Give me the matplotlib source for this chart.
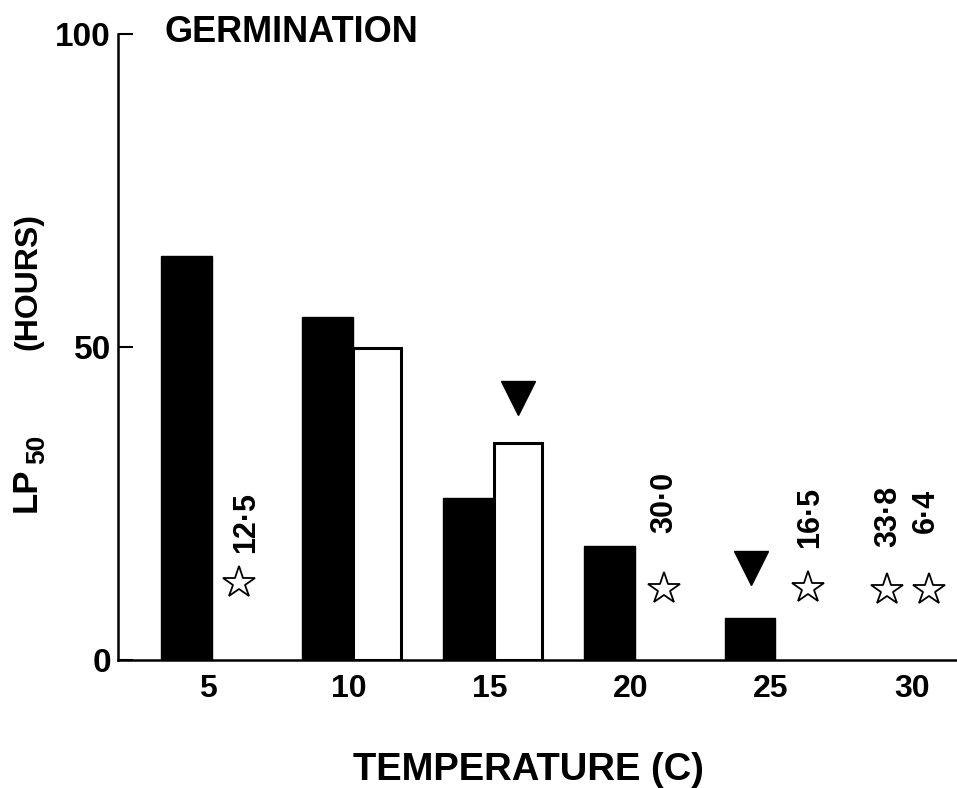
import matplotlib
matplotlib.use("Agg")
import matplotlib.pyplot as plt

plt.rcParams['font.family'] = ['Liberation Sans', 'DejaVu Sans']
plt.rcParams['font.weight'] = 'bold'

# temperature (C) and LP50 (hours)
temps = [5, 10, 15, 20, 25, 30]
black_vals = [64.5, 54.8, 25.9, 18.2, 6.7]
black_temps = [5, 10, 15, 20, 25]
white_vals = [49.8, 34.7]
white_temps = [10, 15]

# open stars with their printed values
star_x = [6.1, 21.2, 26.3, 29.1, 30.6]
star_y = [12.3, 11.4, 11.5, 11.2, 11.2]
star_labels = ["12·5", "30·0", "16·5", "33·8", "6·4"]
label_x = [6.35, 21.2, 26.4, 29.15, 30.5]
label_y = [17.1, 20.3, 17.9, 18.0, 20.3]

# solid triangles
tri_x = [16.0, 24.3]
tri_y = [41.9, 14.7]

fig = plt.figure(figsize=(9.57, 7.88), dpi=100)
ax = fig.add_axes([0.123, 0.1624, 0.877, 0.7946])

ax.bar([t - 0.75 for t in black_temps], black_vals, width=1.8, color='black', edgecolor='black', linewidth=1)
ax.bar([t + 1.0 for t in white_temps], white_vals, width=1.7, color='white', edgecolor='black', linewidth=2.2)

ax.plot(star_x, star_y, ls='none', marker='*', ms=24, mfc='white', mec='black', mew=1.3)
ax.plot(tri_x, tri_y, ls='none', marker='v', ms=24, color='black')

for x, y, s in zip(label_x, label_y, star_labels):
    ax.text(x, y, s, rotation=90, ha='center', va='bottom', fontsize=22, fontweight='bold')

ax.set_xlim(1.8, 31.6)
ax.set_ylim(0, 100)
ax.set_xticks(temps)
ax.set_yticks([0, 50, 100])
ax.tick_params(axis='y', direction='in', length=11, width=1.5, pad=5, labelsize=24)
ax.tick_params(axis='x', length=0, pad=10, labelsize=23)
for lab in ax.get_xticklabels() + ax.get_yticklabels():
    lab.set_fontweight('bold')

for side in ['top', 'right']:
    ax.spines[side].set_visible(False)
ax.spines['left'].set_linewidth(1.8)
ax.spines['bottom'].set_linewidth(1.8)

fig.text(165 / 957, 1 - 42 / 788, "GERMINATION", fontsize=26, fontweight='bold',
         ha='left', va='baseline')
fig.text(528 / 957, 1 - 770 / 788, "TEMPERATURE (C)", fontsize=27.5, fontweight='bold',
         ha='center', va='center')
fig.text(28 / 957, 1 - 282 / 788, "(HOURS)", rotation=90, fontsize=23, fontweight='bold',
         ha='center', va='center')
# LP with a large subscript 50
fig.text(43 / 957, 1 - 512 / 788, "LP", rotation=90, fontsize=25, fontweight='bold',
         ha='right', va='bottom')
fig.text(49 / 957, 1 - 464 / 788, "50", rotation=90, fontsize=19, fontweight='bold',
         ha='right', va='bottom')

fig.savefig("out.png", dpi=100)
